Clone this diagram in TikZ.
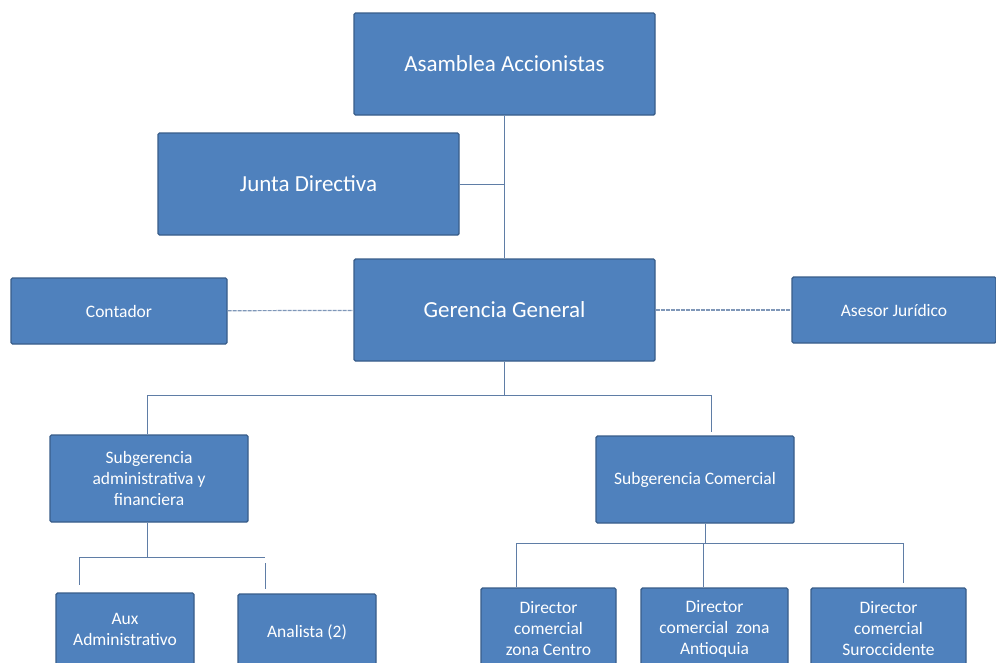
\documentclass[tikz,border=0pt]{standalone}
\usepackage{fontspec}
\setmainfont{Carlito}
\usepackage{tikz}
\usetikzlibrary{positioning}
\definecolor{cajaazul}{HTML}{4F81BD}
\definecolor{bordeazul}{HTML}{385D8A}
\definecolor{lineaazul}{HTML}{5F7DA6}
\tikzset{
    %Define style for boxes
    caja/.style={
           rectangle,
           rounded corners=1.5pt,
           draw=bordeazul, line width=1.4pt,
           fill=cajaazul,
           text=white,
           align=center,
           inner sep=2pt},
    grande/.style={
           caja,
           minimum width=301pt,
           minimum height=102pt,
           font=\fontsize{23}{27}\selectfont},
    chica/.style={
           caja,
           font=\fontsize{17.5}{21}\selectfont},
    % Define line styles
    linea/.style={
           draw=lineaazul,
           line width=1pt},
    lineapunt/.style={
           draw=lineaazul!80,
           line width=1.2pt,
           dash pattern=on 4pt off 1pt}
}
\begin{document}
\begin{tikzpicture}[x=1pt,y=-1pt]
         \clip (0,0) rectangle (996,662);
         \fill[white] (0,0) rectangle (996,662);
         %nodes
         \node[grande] (asamblea) at (504.5,64) {Asamblea Accionistas};
         \node[grande] (junta) at (308.5,184) {Junta Directiva};
         \node[grande] (gerencia) at (504.5,310) {Gerencia General};
         \node[chica, minimum width=216pt, minimum height=66pt] (contador) at (119,311) {Contador};
         \node[chica, minimum width=204pt, minimum height=66pt] (asesor) at (894,310) {Asesor Jurídico};
         \node[chica, minimum width=198pt, minimum height=87pt] (subadm) at (149,478.5)
            {Subgerencia\\administrativa y\\financiera};
         \node[chica, minimum width=198pt, minimum height=87pt] (subcom) at (695,479.5)
            {Subgerencia Comercial};
         \node[chica, minimum width=138pt, minimum height=72pt] (aux) at (125,629)
            {Aux\\Administrativo};
         \node[chica, minimum width=138pt, minimum height=76pt] (analista) at (307,632)
            {Analista (2)};
         \node[chica, minimum width=135pt, minimum height=82pt] (centro) at (548.5,629)
            {Director\\comercial\\zona Centro};
         \node[chica, minimum width=147pt, minimum height=82pt] (antioquia) at (714.5,629)
            {Director\\comercial~ zona\\Antioquia};
         \node[chica, minimum width=155pt, minimum height=82pt] (suroc) at (888.5,629)
            {Director\\comercial\\Suroccidente};
         %connection points
         \coordinate (busA) at (147,395);
         \coordinate (busB) at (711,395);
         \coordinate (admA) at (79,557);
         \coordinate (admB) at (265,557);
         \coordinate (comA) at (516,543);
         \coordinate (comB) at (703,543);
         \coordinate (comC) at (903,543);
         %lines
         \draw[linea] (asamblea) -- (gerencia);
         \draw[linea] (junta.east) -- (junta.east -| asamblea.south);
         \draw[lineapunt] (contador) -- (gerencia);
         \draw[lineapunt] (gerencia) -- (asesor);
         \draw[linea] (gerencia.south) -- (gerencia.south |- busA);
         \draw[linea] (busA) -- (busB);
         \draw[linea] (busA) -- (busA |- subadm.north);
         \draw[linea] (busB) -- ++(0,37);
         \draw[linea] (subadm.south -| busA) -- (busA |- admA);
         \draw[linea] (admA) -- (admB);
         \draw[linea] (admA) -- ++(0,28);
         \draw[linea] (admB) ++(0,6) -- ++(0,26);
         \draw[linea] (subcom.south -| 705,0) -- (705,543);
         \draw[linea] (comA) -- (comC) -- ++(0,4);
         \draw[linea] (comA) -- (comA |- centro.north);
         \draw[linea] (comB) -- (comB |- antioquia.north);
         \draw[linea] (comC) -- ++(0,40);
\end{tikzpicture}
\end{document}
